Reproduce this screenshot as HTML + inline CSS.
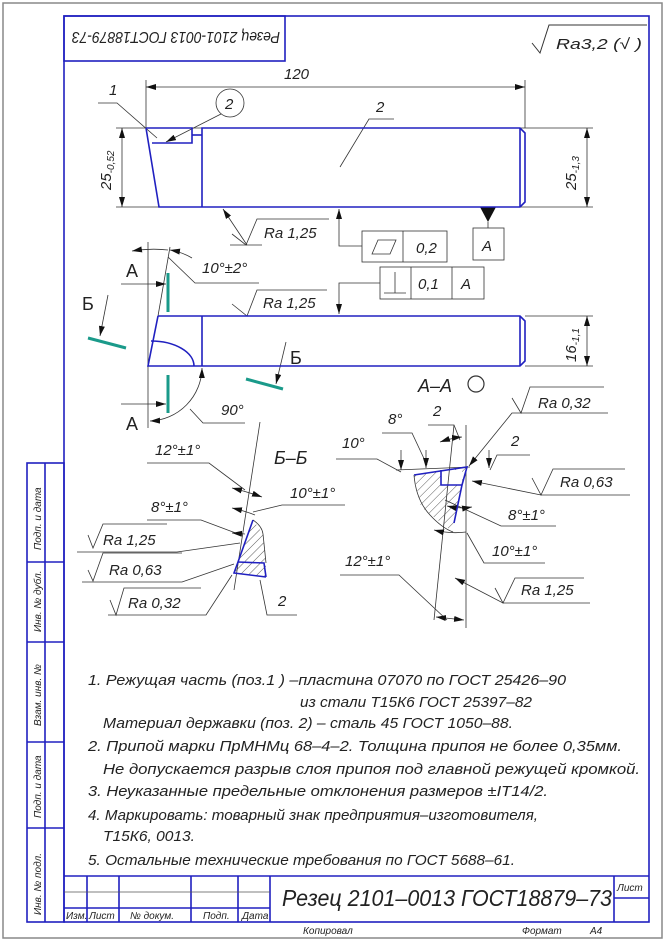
<!DOCTYPE html>
<html><head><meta charset="utf-8"><style>
html,body{margin:0;padding:0;background:#fff}
svg{display:block}
text{font-family:"Liberation Sans","DejaVu Sans",sans-serif;font-style:italic;fill:#222}
</style></head><body>
<svg width="666" height="941" viewBox="0 0 666 941" xmlns="http://www.w3.org/2000/svg">
<defs>
<pattern id="h" width="6" height="6" patternUnits="userSpaceOnUse" patternTransform="rotate(45)"><line x1="0" y1="0" x2="0" y2="6" stroke="#333" stroke-width="0.8"/></pattern>
<marker id="a" viewBox="0 0 10 6" refX="10" refY="3" markerWidth="10" markerHeight="6" orient="auto-start-reverse" markerUnits="userSpaceOnUse"><path d="M0,0 L10,3 L0,6 z" fill="#111"/></marker>
</defs>
<rect x="3" y="3" width="659" height="935" fill="none" stroke="#888" stroke-width="1.5"/>
<g stroke="#2020c0" stroke-width="1.6" fill="none">
<rect x="64" y="16" width="585" height="906"/>
<rect x="64" y="16" width="221" height="45"/>
<rect x="27" y="463" width="37" height="459"/>
<line x1="45" y1="463" x2="45" y2="922"/>
<line x1="27" y1="562" x2="64" y2="562"/><line x1="27" y1="642" x2="64" y2="642"/><line x1="27" y1="742" x2="64" y2="742"/><line x1="27" y1="828" x2="64" y2="828"/>
<line x1="64" y1="876" x2="649" y2="876"/>
<line x1="64" y1="908" x2="270" y2="908"/>
<line x1="87" y1="876" x2="87" y2="922"/><line x1="119" y1="876" x2="119" y2="922"/><line x1="191" y1="876" x2="191" y2="922"/><line x1="238" y1="876" x2="238" y2="922"/><line x1="270" y1="876" x2="270" y2="922"/><line x1="614" y1="876" x2="614" y2="922"/><line x1="614" y1="898" x2="649" y2="898"/>
</g>
<line x1="64" y1="892" x2="270" y2="892" stroke="#555" stroke-width="0.8"/>
<text x="0" y="0" font-size="16" transform="translate(280,32) rotate(180)" textLength="208" lengthAdjust="spacingAndGlyphs">Резец 2101-0013 ГОСТ18879-73</text>
<polyline points="532,43 540,53 549,25 647,25" fill="none" stroke="#333" stroke-width="1"/>
<text x="556" y="49" font-size="15" textLength="86" lengthAdjust="spacingAndGlyphs">Ra3,2 (√ )</text>
<g font-size="10">
<text transform="translate(41,550) rotate(-90)">Подп. и дата</text>
<text transform="translate(41,632) rotate(-90)">Инв. № дубл.</text>
<text transform="translate(41,726) rotate(-90)">Взам. инв. №</text>
<text transform="translate(41,818) rotate(-90)">Подп. и дата</text>
<text transform="translate(41,915) rotate(-90)">Инв. № подл.</text>
<text x="66" y="919">Изм.</text><text x="89" y="919">Лист</text><text x="130" y="919">№ докум.</text><text x="203" y="919">Подп.</text><text x="242" y="919">Дата</text>
<text x="617" y="891">Лист</text>
<text x="303" y="934">Копировал</text><text x="522" y="934">Формат</text><text x="590" y="934">А4</text>
</g>
<text x="282" y="906" font-size="23" textLength="330" lengthAdjust="spacingAndGlyphs">Резец 2101–0013 ГОСТ18879–73</text>

<g stroke="#333" stroke-width="0.8" fill="none">
<line x1="146" y1="87" x2="525" y2="87" marker-start="url(#a)" marker-end="url(#a)"/>
<line x1="146" y1="80" x2="146" y2="128"/><line x1="525" y1="80" x2="525" y2="128"/>
<line x1="116" y1="128" x2="593" y2="128"/><line x1="116" y1="207" x2="593" y2="207"/>
<line x1="122" y1="128" x2="122" y2="207" marker-start="url(#a)" marker-end="url(#a)"/>
<line x1="587" y1="128" x2="587" y2="207" marker-start="url(#a)" marker-end="url(#a)"/>
<polyline points="98,103 117,103 157,138"/>
<circle cx="230" cy="103" r="14"/>
<line x1="221" y1="114" x2="166" y2="142" marker-end="url(#a)"/>
<polyline points="394,119 369,119 340,167"/>
<line x1="247" y1="245" x2="223" y2="209" marker-end="url(#a)"/>
<polyline points="232,234 246,245 257,219 329,219"/>
<line x1="230" y1="245" x2="262" y2="245"/>
<polyline points="362,246 339,246 339,209" marker-end="url(#a)"/>
<rect x="362" y="231" width="85" height="31"/><line x1="403" y1="231" x2="403" y2="262"/>
<polygon points="372,254 378,240 396,240 390,254"/>
<line x1="488" y1="222" x2="488" y2="228"/>
<rect x="473" y="228" width="31" height="32"/>
<rect x="380" y="267" width="104" height="32"/><line x1="411" y1="267" x2="411" y2="299"/><line x1="452" y1="267" x2="452" y2="299"/>
<line x1="395" y1="272" x2="395" y2="293"/><line x1="384" y1="293" x2="406" y2="293"/>
<polyline points="380,283 339,283 339,314" marker-end="url(#a)"/>
</g>
<polygon points="480,207 496,207 488,222" fill="#111"/>
<g stroke="#2020c0" stroke-width="1.6" fill="none">
<polyline points="146,128 192,128 192,143 152,143"/>
<polyline points="146,128 159,207 520,207 525,202 525,133 520,128 202,128 202,207"/>
<polyline points="192,135 202,135"/><line x1="520" y1="128" x2="520" y2="207"/>
</g>
<g font-size="15">
<text x="284" y="79">120</text>
<text x="109" y="95">1</text>
<text x="225" y="109">2</text>
<text x="376" y="112">2</text>
<text x="264" y="238">Ra 1,25</text>
<text x="416" y="253">0,2</text>
<text x="482" y="251">A</text>
<text x="418" y="289">0,1</text>
<text x="461" y="289">A</text>
<text transform="translate(111,190) rotate(-90)">25<tspan font-size="10" dy="3">-0,52</tspan></text>
<text transform="translate(576,190) rotate(-90)">25<tspan font-size="10" dy="3">-1,3</tspan></text>
<text transform="translate(576,362) rotate(-90)">16<tspan font-size="10" dy="3">-1,1</tspan></text>
<text x="263" y="308">Ra 1,25</text>
<text x="202" y="273">10°±2°</text>
<text x="221" y="415">90°</text>
</g>

<g stroke="#333" stroke-width="0.8" fill="none">
<polyline points="232,304 247,316 257,290 327,290"/>
<line x1="525" y1="316" x2="593" y2="316"/><line x1="525" y1="366" x2="593" y2="366"/>
<line x1="587" y1="316" x2="587" y2="366" marker-start="url(#a)" marker-end="url(#a)"/>
<line x1="148" y1="242" x2="148" y2="428"/>
<line x1="170" y1="247" x2="158" y2="316"/>
<path d="M132,251 Q150,248 168,250" marker-start="url(#a)"/>
<path d="M170,250 Q182,252 192,258" marker-start="url(#a)"/>
<polyline points="168,257 195,283 259,283"/>
<line x1="121" y1="284" x2="166" y2="284" marker-end="url(#a)"/>
<line x1="121" y1="404" x2="166" y2="404" marker-end="url(#a)"/>
<line x1="108" y1="295" x2="100" y2="336" marker-end="url(#a)"/>
<line x1="286" y1="342" x2="276" y2="384" marker-end="url(#a)"/>
<path d="M202,368 A54,54 0 0 1 150,421" marker-start="url(#a)" marker-end="url(#a)"/>
<polyline points="190,409 203,423 245,423"/>
</g>
<g stroke="#2020c0" stroke-width="1.6" fill="none">
<polyline points="158,316 520,316 525,321 525,361 520,366 148,366 158,316"/>
<line x1="202" y1="316" x2="202" y2="366"/><line x1="520" y1="316" x2="520" y2="366"/>
<path d="M151,341 A43,25 0 0 1 194,366"/>
</g>
<g stroke="#1a9a8a" stroke-width="3" fill="none">
<line x1="168" y1="273" x2="168" y2="312"/>
<line x1="168" y1="375" x2="168" y2="413"/>
<line x1="88" y1="338" x2="126" y2="348"/>
<line x1="246" y1="379" x2="283" y2="389"/>
</g>
<g font-size="18">
<text x="126" y="277" style="font-style:normal">A</text>
<text x="126" y="430" style="font-style:normal">A</text>
<text x="82" y="310" style="font-style:normal">Б</text>
<text x="290" y="364" style="font-style:normal">Б</text>
<text x="418" y="392">A–A</text>
<text x="274" y="464">Б–Б</text>
</g>
<circle cx="476" cy="384" r="8" fill="none" stroke="#333" stroke-width="1.2"/>

<polygon points="253,520 263,534 266,563 266,577 234,573 238,562" fill="url(#h)"/>
<g stroke="#333" stroke-width="0.8" fill="none">
<line x1="260" y1="422" x2="234" y2="590"/>
<path d="M253,520 Q262,526 263,534 L266,563"/>
<polyline points="147,463 209,463 245,490"/>
<polyline points="345,505 282,505 253,512"/>
<polyline points="147,520 201,520 241,535"/>
<polyline points="88,535 93,548 103,524 167,524"/>
<polyline points="77,552 177,552 240,543"/>
<polyline points="88,570 93,581 103,553 182,553"/>
<polyline points="82,582 182,582 234,564"/>
<polyline points="110,600 116,615 124,588 201,588"/>
<polyline points="108,615 206,615 232,575"/>
<polyline points="297,615 267,615 260,580"/>
<path d="M232,488 Q248,492 262,497" marker-start="url(#a)" marker-end="url(#a)"/>
<path d="M232,508 Q245,511 255,515" marker-start="url(#a)"/>
<line x1="232" y1="533" x2="245" y2="534" marker-start="url(#a)"/>
</g>
<g stroke="#2020c0" stroke-width="1.6" fill="none">
<polyline points="253,520 238,562 234,573 266,577"/>
<polyline points="238,562 264,563 266,577"/>
</g>
<g font-size="15">
<text x="155" y="455">12°±1°</text>
<text x="290" y="498">10°±1°</text>
<text x="151" y="512">8°±1°</text>
<text x="103" y="545">Ra 1,25</text>
<text x="109" y="575">Ra 0,63</text>
<text x="128" y="608">Ra 0,32</text>
<text x="278" y="606">2</text>
</g>

<polygon points="414,475 467,467 462,485 454,523 453,532 421,507" fill="url(#h)"/>
<rect x="441" y="470" width="21" height="15" fill="#fff"/>
<g stroke="#333" stroke-width="0.8" fill="none">
<line x1="466" y1="425" x2="466" y2="628"/>
<line x1="454" y1="425" x2="434" y2="620"/>
<path d="M414,475 Q416,500 430,515 Q442,528 453,532"/>
<line x1="396" y1="470" x2="470" y2="467"/>
<polyline points="336,459 377,459 401,472"/>
<polyline points="382,433 412,433 427,465"/>
<polyline points="428,425 454,425 460,440"/>
<polyline points="512,398 521,413 530,387 604,387"/>
<polyline points="608,413 512,413 469,466" marker-end="url(#a)"/>
<polyline points="530,455 497,455 490,470"/>
<polyline points="532,478 541,495 553,469 625,469"/>
<polyline points="630,495 541,495 472,481" marker-end="url(#a)"/>
<polyline points="556,526 501,526 445,500"/>
<polyline points="545,563 484,563 467,533"/>
<polyline points="340,575 399,575 447,620"/>
<polyline points="495,588 503,603 515,578 584,578"/>
<polyline points="590,603 503,603 455,578" marker-end="url(#a)"/>
<path d="M440,442 Q452,438 462,437" marker-start="url(#a)" marker-end="url(#a)"/>
<line x1="401" y1="450" x2="401" y2="470" marker-end="url(#a)"/>
<line x1="426" y1="450" x2="426" y2="468" marker-end="url(#a)"/>
<line x1="489" y1="450" x2="489" y2="468" marker-end="url(#a)"/>
<path d="M447,506 Q460,509 472,507" marker-start="url(#a)" marker-end="url(#a)"/>
<path d="M434,530 Q450,534 466,532" marker-start="url(#a)"/>
<line x1="436" y1="617" x2="464" y2="620" marker-start="url(#a)" marker-end="url(#a)"/>
</g>
<g stroke="#2020c0" stroke-width="1.6" fill="none">
<polyline points="414,475 467,467 462,485 454,523"/>
<polyline points="441,470 441,485 462,485"/>
</g>
<g font-size="15">
<text x="388" y="424">8°</text>
<text x="433" y="416">2</text>
<text x="342" y="448">10°</text>
<text x="538" y="408">Ra 0,32</text>
<text x="511" y="446">2</text>
<text x="560" y="487">Ra 0,63</text>
<text x="508" y="520">8°±1°</text>
<text x="492" y="556">10°±1°</text>
<text x="345" y="566">12°±1°</text>
<text x="521" y="595">Ra 1,25</text>
</g>

<g font-size="15">
<text x="88" y="685" textLength="478" lengthAdjust="spacingAndGlyphs">1.  Режущая часть (поз.1 ) –пластина 07070 по ГОСТ 25426–90</text>
<text x="300" y="707" textLength="232" lengthAdjust="spacingAndGlyphs">из стали Т15К6 ГОСТ 25397–82</text>
<text x="103" y="728" textLength="410" lengthAdjust="spacingAndGlyphs">Материал державки (поз. 2) – сталь 45 ГОСТ 1050–88.</text>
<text x="88" y="751" textLength="534" lengthAdjust="spacingAndGlyphs">2. Припой марки ПрМНМц 68–4–2. Толщина припоя не более 0,35мм.</text>
<text x="103" y="774" textLength="537" lengthAdjust="spacingAndGlyphs">Не допускается разрыв слоя припоя под главной режущей кромкой.</text>
<text x="88" y="796" textLength="460" lengthAdjust="spacingAndGlyphs">3. Неуказанные предельные отклонения размеров ±IT14/2.</text>
<text x="88" y="820" textLength="450" lengthAdjust="spacingAndGlyphs">4. Маркировать: товарный знак предприятия–изготовителя,</text>
<text x="103" y="841" textLength="92" lengthAdjust="spacingAndGlyphs">Т15К6, 0013.</text>
<text x="88" y="865" textLength="427" lengthAdjust="spacingAndGlyphs">5. Остальные технические требования по ГОСТ 5688–61.</text>
</g>
</svg>
</body></html>
